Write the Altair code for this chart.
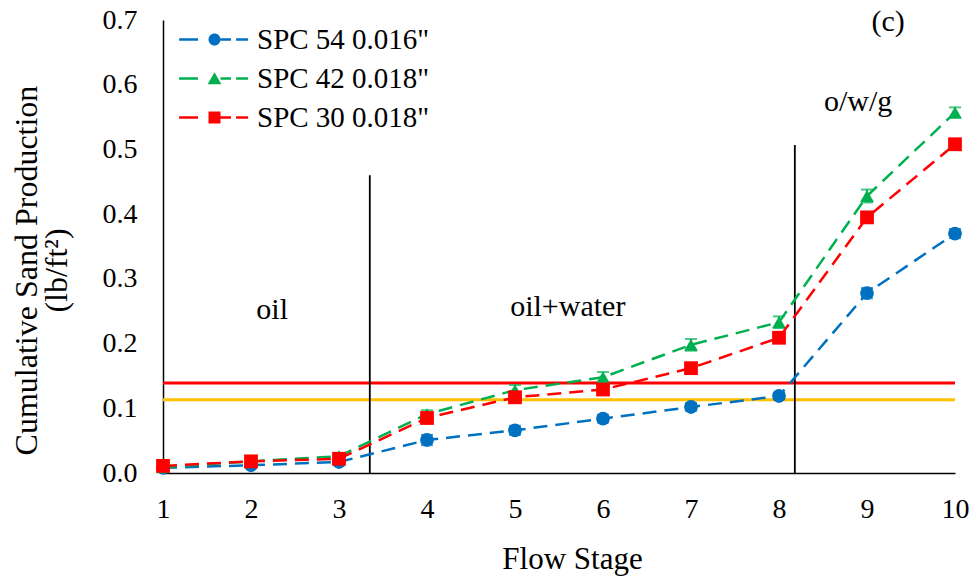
import altair as alt
import pandas as pd

stages = [1, 2, 3, 4, 5, 6, 7, 8, 9, 10]
series_names = ['SPC 54 0.016"', 'SPC 42 0.018"', 'SPC 30 0.018"']
series_colors = ["#0070C0", "#00B050", "#FF0000"]
series_shapes = ["circle", "triangle-up", "square"]

spc54 = [0.008, 0.012, 0.017, 0.051, 0.066, 0.084, 0.102, 0.119, 0.278, 0.370]
spc42 = [0.009, 0.018, 0.026, 0.091, 0.128, 0.148, 0.198, 0.233, 0.428, 0.557]
spc30 = [0.011, 0.018, 0.022, 0.085, 0.117, 0.129, 0.162, 0.209, 0.395, 0.508]

err54 = [0.002, 0.003, 0.004, 0.008, 0.007, 0.006, 0.006, 0.005, 0.008, 0.007]
err42 = [0.002, 0.003, 0.004, 0.006, 0.008, 0.008, 0.009, 0.009, 0.010, 0.008]
err30 = [0.003, 0.004, 0.004, 0.006, 0.007, 0.006, 0.007, 0.007, 0.008, 0.008]

sep_x = [3.35, 8.18]
sep_top = [0.46, 0.507]

hline_y = [0.139, 0.113]
hline_color = ["#FF0000", "#FFC000"]

notes = ["oil", "oil+water", "o/w/g", "(c)"]
note_x = [2.24, 5.6, 8.9, 9.24]
note_y = [0.252, 0.257, 0.573, 0.697]

FONT = "Liberation Serif"

rows = []
for name, vals, errs in zip(series_names, [spc54, spc42, spc30], [err54, err42, err30]):
    for s, v, e in zip(stages, vals, errs):
        rows.append({"stage": s, "value": v, "lo": v - e, "hi": v + e, "series": name})
df = pd.DataFrame(rows)

xscale = alt.Scale(domain=[1, 10], nice=False, zero=False)
yscale = alt.Scale(domain=[0, 0.7], nice=False)
cscale = alt.Scale(domain=series_names, range=series_colors)

# legend symbol paths: dashed line with marker in the middle (unit coords scaled by 6px)
dash = "M-5.9,-0.2H-2.75V0.2H-5.9Z M1,-0.2H2.75V0.2H1Z M3.6,-0.2H5.6V0.2H3.6Z "
p_circle = dash + "M-1,0A1,1 0 1,0 1,0A1,1 0 1,0 -1,0Z"
p_tri = dash + "M0,-1.05L1.15,0.95H-1.15Z"
p_sq = dash + "M-1,-1H1V1H-1Z"
legend_scale = alt.Scale(domain=series_names, range=[p_circle, p_tri, p_sq])

x_axis = alt.Axis(
    values=stages, format="d", ticks=False, grid=False, domainColor="black", domainWidth=1.5,
    labelFont=FONT, labelFontSize=28, labelColor="black", labelPadding=22, labelFlush=False,
    title="Flow Stage", titleFont=FONT, titleFontSize=31, titleFontWeight="normal",
    titleColor="black", titleX=409, titleY=95, titleBaseline="alphabetic", titleAlign="center",
)
y_axis = alt.Axis(
    values=[0, 0.1, 0.2, 0.3, 0.4, 0.5, 0.6, 0.7], format=".1f", ticks=False, grid=False,
    domainColor="black", domainWidth=1.5,
    labelFont=FONT, labelFontSize=28, labelColor="black", labelPadding=26,
    title=["Cumulative Sand Production", "(lb/ft²)"], titleFont=FONT, titleFontSize=32,
    titleFontWeight="normal", titleColor="black", titleAngle=-90, titleX=-152, titleY=250,
    titleBaseline="top", titleAlign="center", titleLineHeight=30,
)

legend = alt.Legend(
    orient="none", legendX=37, legendY=5, title=None, padding=0,
    labelFont=FONT, labelFontSize=29, labelColor="black", labelOffset=28, labelLimit=500,
    symbolSize=144, rowPadding=9, symbolStrokeWidth=0, symbolOpacity=1,
)

base = alt.Chart(df)

layers = []

# legend-only layer (draws no marks, carries the legend)
layers.append(
    base.transform_filter("false").mark_point(filled=True, opacity=1, size=144, strokeWidth=0).encode(
        x=alt.X("stage:Q", scale=xscale, axis=x_axis),
        y=alt.Y("value:Q", scale=yscale, axis=y_axis),
        color=alt.Color("series:N", scale=cscale, sort=series_names, legend=legend),
        shape=alt.Shape("series:N", scale=legend_scale, sort=series_names, legend=legend),
    )
)

for hy, hc in zip(hline_y, hline_color):
    layers.append(
        alt.Chart(pd.DataFrame({"y": [hy]})).mark_rule(strokeWidth=3, color=hc).encode(
            y=alt.Y("y:Q", scale=yscale, axis=y_axis),
            x=alt.value(0), x2=alt.value(792),
        )
    )

sdf = pd.DataFrame({"x": sep_x, "top": sep_top, "bot": [0, 0]})
layers.append(
    alt.Chart(sdf).mark_rule(strokeWidth=1.8, color="black").encode(
        x=alt.X("x:Q", scale=xscale, axis=x_axis),
        y=alt.Y("bot:Q", scale=yscale, axis=y_axis),
        y2="top:Q",
    )
)

for name, col, shp in zip(series_names, series_colors, series_shapes):
    sb = base.transform_filter(alt.datum.series == name)
    layers.append(
        sb.mark_line(strokeWidth=2.5, strokeDash=[14, 8], color=col).encode(
            x=alt.X("stage:Q", scale=xscale, axis=x_axis),
            y=alt.Y("value:Q", scale=yscale, axis=y_axis),
        )
    )
    layers.append(
        sb.mark_rule(strokeWidth=2, color=col).encode(
            x=alt.X("stage:Q", scale=xscale, axis=x_axis),
            y=alt.Y("lo:Q", scale=yscale, axis=y_axis),
            y2="hi:Q",
        )
    )
    for fld in ["lo", "hi"]:
        layers.append(
            sb.mark_tick(orient="horizontal", size=12, thickness=2, color=col).encode(
                x=alt.X("stage:Q", scale=xscale, axis=x_axis),
                y=alt.Y(fld + ":Q", scale=yscale, axis=y_axis),
            )
        )
    layers.append(
        sb.mark_point(filled=True, opacity=1, size=190, shape=shp, color=col).encode(
            x=alt.X("stage:Q", scale=xscale, axis=x_axis),
            y=alt.Y("value:Q", scale=yscale, axis=y_axis),
        )
    )

ndf = pd.DataFrame({"t": notes, "x": note_x, "y": note_y})
layers.append(
    alt.Chart(ndf).mark_text(font=FONT, fontSize=30, color="black", align="center",
                             baseline="middle").encode(
        x=alt.X("x:Q", scale=xscale, axis=x_axis),
        y=alt.Y("y:Q", scale=yscale, axis=y_axis),
        text="t:N",
    )
)

chart = alt.layer(*layers).properties(
    width=792, height=453,
    padding={"left": 163, "top": 20, "right": 16, "bottom": 107},
    autosize=alt.AutoSizeParams(type="none"),
    background="white",
).configure(font=FONT).configure_axis(
    labelFont=FONT, titleFont=FONT
).configure_legend(labelFont=FONT).configure_view(stroke=None)

chart.save("out.html", embed_options={"renderer": "svg", "actions": False})
